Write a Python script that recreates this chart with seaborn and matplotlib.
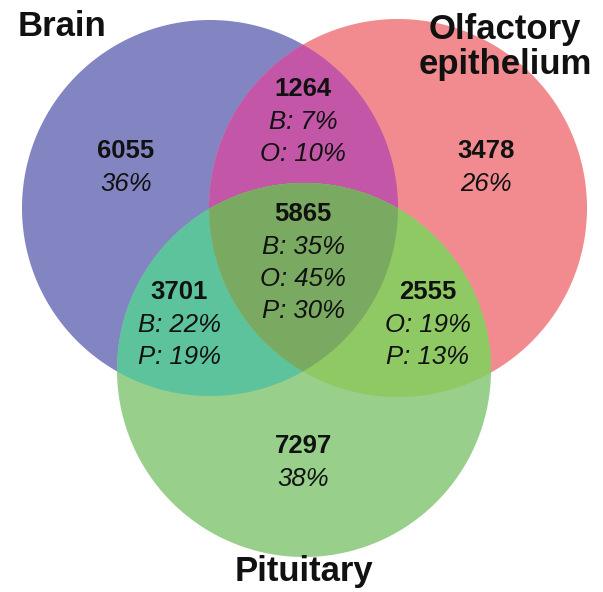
import numpy as np
import matplotlib
matplotlib.use("Agg")
import matplotlib.pyplot as plt
import seaborn as sns
from matplotlib.patches import Polygon

# ---- data ----
set_names = ["Brain", "Olfactory\nepithelium", "Pituitary"]
region_keys = ["B", "O", "P", "BO", "BP", "OP", "BOP"]
region_counts = [6055, 3478, 7297, 1264, 3701, 2555, 5865]
region_pcts = [
    ["36%"],
    ["26%"],
    ["38%"],
    ["B: 7%", "O: 10%"],
    ["B: 22%", "P: 19%"],
    ["O: 19%", "P: 13%"],
    ["B: 35%", "O: 45%", "P: 30%"],
]

# ---- style / layout ----
sns.set_theme(style="white")
plt.rcParams["font.family"] = ["Liberation Sans", "DejaVu Sans"]

W, H = 603, 592
fig = plt.figure(figsize=(W / 100, H / 100), dpi=100)
ax = fig.add_axes([0, 0, 1, 1])
ax.set_xlim(0, W)
ax.set_ylim(H, 0)
ax.axis("off")

circles = {"B": (210, 208, 188), "O": (398, 208, 189), "P": (304, 370, 187)}
colors = {
    "B": "#8385C3", "O": "#F28B8F", "P": "#98CF8B",
    "BO": "#C356A6", "BP": "#5CC39C", "OP": "#8EC964", "BOP": "#7AAA62",
}


def circle_poly(cx, cy, r, n=720):
    t = np.linspace(0, 2 * np.pi, n, endpoint=False)
    return np.column_stack([cx + r * np.cos(t), cy + r * np.sin(t)])


def clip(subject, clipper):
    out = list(map(tuple, subject))
    m = len(clipper)
    for i in range(m):
        a = clipper[i]
        b = clipper[(i + 1) % m]
        inp = out
        out = []
        if not inp:
            break

        def inside(p):
            return (b[0] - a[0]) * (p[1] - a[1]) - (b[1] - a[1]) * (p[0] - a[0]) >= 0

        def inter(p, q):
            x1, y1 = p; x2, y2 = q; x3, y3 = a; x4, y4 = b
            den = (x1 - x2) * (y3 - y4) - (y1 - y2) * (x3 - x4)
            tt = ((x1 - x3) * (y3 - y4) - (y1 - y3) * (x3 - x4)) / den
            return (x1 + tt * (x2 - x1), y1 + tt * (y2 - y1))

        s = inp[-1]
        for e in inp:
            if inside(e):
                if not inside(s):
                    out.append(inter(s, e))
                out.append(e)
            elif inside(s):
                out.append(inter(s, e))
            s = e
    return np.array(out)


polys = {k: circle_poly(*v) for k, v in circles.items()}
for k in ["B", "O", "P"]:
    ax.add_patch(Polygon(polys[k], closed=True, fc=colors[k], ec="none"))
for k in ["BO", "BP", "OP", "BOP"]:
    p = polys[k[0]]
    for c in k[1:]:
        p = clip(p, polys[c])
    ax.add_patch(Polygon(p, closed=True, fc=colors[k], ec="none"))

# text positions (center of first line)
label_pos = {
    "B": (126, 151), "O": (486, 151), "P": (303, 446),
    "BO": (303, 89), "BP": (179, 292), "OP": (428, 292), "BOP": (303, 214),
}
line_h = 32
for key, cnt, pcts in zip(region_keys, region_counts, region_pcts):
    x, y = label_pos[key]
    ax.text(x, y, str(cnt), ha="center", va="center", fontsize=18.5,
            fontweight="bold", color="#111111")
    for j, t in enumerate(pcts):
        ax.text(x, y + line_h * (j + 1) + 1, t, ha="center", va="center",
                fontsize=18.5, fontstyle="italic", color="#111111")

name_pos = [(62, 26, "center"), (505, 47, "center"), (304, 571, "center")]
for name, (x, y, ha) in zip(set_names, name_pos):
    ax.text(x, y, name, ha=ha, va="center", fontsize=25, fontweight="bold",
            color="#111111", linespacing=1.1)

fig.savefig("out.png", dpi=100)
